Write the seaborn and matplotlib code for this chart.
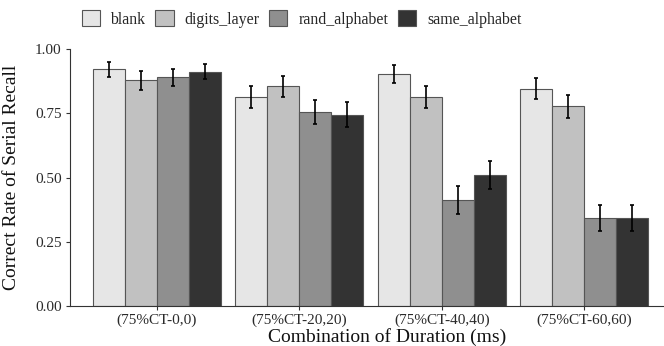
import numpy as np
import pandas as pd
import matplotlib
matplotlib.use("Agg")
import matplotlib.pyplot as plt
import seaborn as sns
from matplotlib.ticker import FormatStrFormatter

# Mean correct rate of serial recall per duration combination and interference type
durations = ["(75%CT-0,0)", "(75%CT-20,20)", "(75%CT-40,40)", "(75%CT-60,60)"]
conditions = ["blank", "digits_layer", "rand_alphabet", "same_alphabet"]

blank = [0.922, 0.812, 0.902, 0.846]
digits_layer = [0.878, 0.855, 0.812, 0.778]
rand_alphabet = [0.890, 0.756, 0.413, 0.343]
same_alphabet = [0.912, 0.745, 0.511, 0.343]

# Standard errors
blank_se = [0.029, 0.043, 0.034, 0.040]
digits_layer_se = [0.036, 0.040, 0.043, 0.045]
rand_alphabet_se = [0.034, 0.047, 0.053, 0.051]
same_alphabet_se = [0.030, 0.048, 0.054, 0.051]

means = [blank, digits_layer, rand_alphabet, same_alphabet]
ses = [blank_se, digits_layer_se, rand_alphabet_se, same_alphabet_se]

df = pd.DataFrame({
    "duration": np.tile(durations, len(conditions)),
    "condition": np.repeat(conditions, len(durations)),
    "rate": np.concatenate(means),
    "se": np.concatenate(ses),
})

palette = ["#e6e6e6", "#c1c1c1", "#8f8f8f", "#333333"]

sns.set_theme(style="ticks")
plt.rcParams["font.family"] = ["Liberation Serif", "DejaVu Serif"]

fig = plt.figure(figsize=(6.64, 3.46), dpi=100)
ax = fig.add_axes([70 / 664, 39.7 / 346, 594 / 664, 257.3 / 346])

sns.barplot(data=df, x="duration", y="rate", hue="condition",
            order=durations, hue_order=conditions, palette=palette,
            errorbar=None, width=0.9, edgecolor="#555555", linewidth=0.8,
            saturation=1, legend=False, ax=ax)

# Error bars at the centre of each drawn bar
for cont, cond in zip(ax.containers, conditions):
    sub = df[df["condition"] == cond].set_index("duration").loc[durations]
    xs = [p.get_x() + p.get_width() / 2 for p in cont.patches]
    hs = [p.get_height() for p in cont.patches]
    ax.errorbar(xs, hs, yerr=sub["se"].values, fmt="none", ecolor="black",
                elinewidth=1.2, capsize=1.3, capthick=1.2, zorder=5)

ax.set_xlim(-0.61, 3.56)
ax.set_ylim(0, 1.0)
ax.set_yticks([0, 0.25, 0.5, 0.75, 1.0])
ax.yaxis.set_major_formatter(FormatStrFormatter("%.2f"))

sns.despine(ax=ax)
for side in ["left", "bottom"]:
    ax.spines[side].set_color("#333333")
    ax.spines[side].set_linewidth(0.8)
ax.tick_params(axis="both", length=3, width=0.8, color="#333333",
               labelsize=11, labelcolor="#2a2a2a")
ax.tick_params(axis="x", pad=2)
ax.tick_params(axis="y", pad=3)

ax.set_xlabel("Combination of Duration (ms)", fontsize=14, color="#111111")
ax.set_ylabel("Correct Rate of Serial Recall", fontsize=14, color="#111111")
ax.xaxis.set_label_coords(0.534, -0.086)
ax.yaxis.set_label_coords(-0.085, 0.5)

handles = list(ax.containers)
fig.legend(handles, conditions, loc="center left",
           bbox_to_anchor=(81.7 / 664, 1 - 19 / 346), ncol=4, frameon=False,
           fontsize=11.4, handlelength=1.14, handleheight=1.14,
           handletextpad=0.68, columnspacing=0.63, borderpad=0,
           borderaxespad=0)

fig.savefig("out.png", dpi=100)
